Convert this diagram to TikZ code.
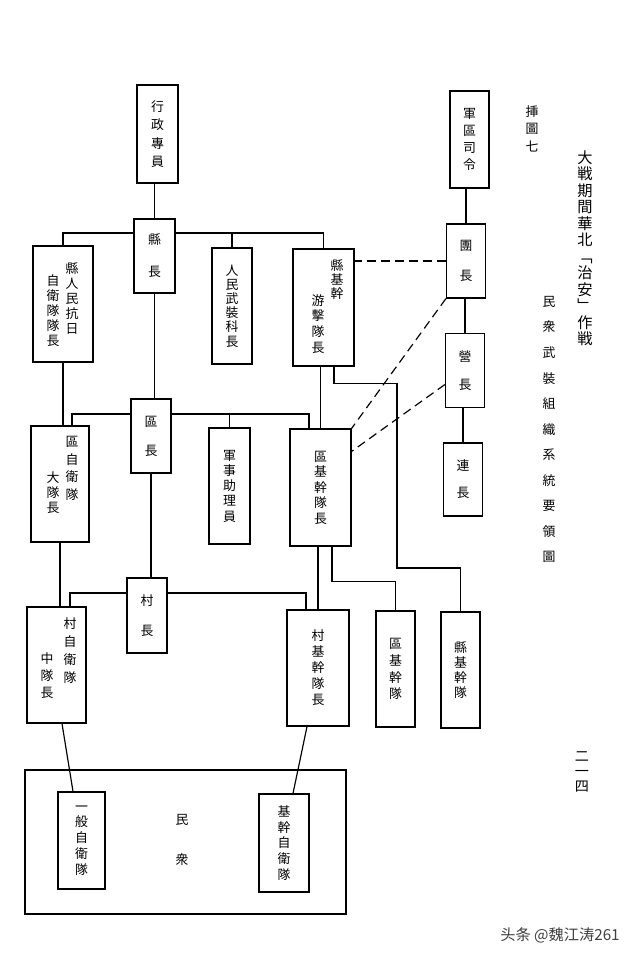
\documentclass[tikz,border=0pt]{standalone}
\usepackage{fontspec}
\newfontfamily\jpfont{Noto Sans CJK JP}
\newfontfamily\wmfont{Noto Sans CJK SC}
\usetikzlibrary{calc}

\begin{document}
\begin{tikzpicture}[x=0.3mm, y=-0.3mm,
  box/.style 2 args={draw, line width=1pt, inner sep=0pt, align=center,
    minimum width=#1*0.3mm, minimum height=#2*0.3mm},
  vt/.style={font=\jpfont\fontsize{11}{#1}\selectfont, align=center},
  vt/.default=13,
  cap/.style 2 args={font=\jpfont\fontsize{#1}{#2}\selectfont, align=center,
    inner sep=0pt, anchor=north},
  link/.style={line width=1pt},
  dlink/.style={line width=1pt, dash pattern=on 7.5pt off 4.5pt}]

% page
\useasboundingbox (0,0) rectangle (640,959);
\fill[white] (0,0) rectangle (640,959);

% heads
\node[box={41}{98}, vt=15.6] (xingzheng) at (157.5,134) {行\\政\\專\\員};
\node[box={39}{97}, vt=14.3] (junqu) at (469.5,139.5) {軍\\區\\司\\令};

% county level
\node[box={41}{74}, vt=27.3] (xianzhang) at (154.5,256) {縣\\長};
\node[box={60}{116}] (xianzwei) at (63,304) {};
\node[cap={11}{12.8}] (xianzwei-r) at (72,262) {縣\\人\\民\\抗\\日};
\node[cap={11}{12.8}] (xianzwei-l) at (53,274) {自\\衛\\隊\\隊\\長};
\node[box={40}{116}, vt=12.1] (renmin) at (232,306) {人\\民\\武\\裝\\科\\長};
\node[box={61}{117}] (xianjiyou) at (323.5,307.5) {};
\node[cap={11}{12}] (xianjiyou-r) at (337,259) {縣\\基\\幹};
\node[cap={11}{13.4}] (xianjiyou-l) at (318,294) {游\\擊\\隊\\長};

% army chain
\node[box={39}{74}, vt=25.6] (tuan) at (466,261) {團\\長};
\node[box={39}{74}, vt=23.9] (ying) at (465,370.5) {營\\長};
\node[box={39}{73}, vt=23] (lian) at (463,479.5) {連\\長};

% district level
\node[box={40}{74}, vt=24.8] (quzhang) at (151,436) {區\\長};
\node[box={58}{116}] (quzwei) at (60,484) {};
\node[cap={11}{15.1}] (quzwei-r) at (72,436) {區\\自\\衛\\隊};
\node[cap={11}{13.2}] (quzwei-l) at (53,471) {大\\隊\\長};
\node[box={41}{116}, vt=13] (junshi) at (229.5,486) {軍\\事\\助\\理\\員};
\node[box={61}{117}, vt=13.2] (qujizhang) at (320.5,487.5) {區\\基\\幹\\隊\\長};

% village level
\node[box={40}{75}, vt=25.6] (cunzhang) at (147,615.5) {村\\長};
\node[box={59}{116}] (cunzwei) at (56.5,665) {};
\node[cap={11}{15.4}] (cunzwei-r) at (70,617) {村\\自\\衛\\隊};
\node[cap={11}{14.5}] (cunzwei-l) at (47,652) {中\\隊\\長};
\node[box={62}{116}, vt=13.7] (cunjizhang) at (318,668) {村\\基\\幹\\隊\\長};
\node[box={39}{116}, vt=14.3] (quji) at (395.5,669) {區\\基\\幹\\隊};
\node[box={39}{116}, vt=12.8] (xianji) at (460.5,670) {縣\\基\\幹\\隊};

% the people
\node[box={321}{144}] (minzhong) at (185.5,842) {};
\node[cap={11}{34}] (minzhong-t) at (182,814) {民\\衆};
\node[box={47}{97}, vt=13.5] (yiban) at (81.5,840.5) {一\\般\\自\\衛\\隊};
\node[box={50}{98}, vt=13.5] (jigan) at (284,843) {基\\幹\\自\\衛\\隊};

% captions
\node[cap={11}{15}] (figno) at (532,105) {挿\\圖\\七};
\node[cap={13}{14.1}] (title) at (585,150) {大\\戦\\期\\間\\華\\北\\﹁\\治\\安\\﹂\\作\\戦};
\node[cap={11}{21.8}] (subtitle) at (549,296) {民\\衆\\武\\裝\\組\\織\\系\\統\\要\\領\\圖};
\node[cap={12}{12.8}] (page) at (582,751) {二\\一\\四};
\node[font=\wmfont\fontsize{13}{13}\selectfont, text=black!75, inner sep=0pt] (mark) at (560,935) {头条 @魏江涛261};

% county links
\coordinate (xbus) at (0,233);
\draw[link] (xianzhang.north) -- (xianzhang.north |- xingzheng.south);
\draw[link] (xianzhang.west |- xbus) -| (xianzwei.north);
\draw[link] (xianzhang.east |- xbus) -| (xianjiyou.north);
\draw[link] (renmin.north) -- (renmin.north |- xbus);

% district links
\coordinate (qbus) at (0,414);
\draw[link] (xianzhang.south) -- (xianzhang.south |- quzhang.north);
\draw[link] (quzhang.west |- qbus) -| ($(quzwei.north)+(12,0)$);
\draw[link] (quzhang.east |- qbus) -| ($(qujizhang.north)+(-11.5,0)$);
\draw[link] (junshi.north) -- (junshi.north |- qbus);
\draw[link] (xianzwei.south) -- (xianzwei.south |- quzwei.north);
\draw[link] (qujizhang.north) -- (qujizhang.north |- xianjiyou.south);
\draw[link] ($(xianjiyou.south)+(10.5,0)$) -- ++(0,17) -| (397,568) -| (xianji.north);

% village links
\coordinate (cbus) at (0,593);
\draw[link] (quzhang.south) -- (quzhang.south |- cunzhang.north);
\draw[link] (cunzhang.west |- cbus) -| ($(cunzwei.north)+(13.5,0)$);
\draw[link] (cunzhang.east |- cbus) -| ($(cunjizhang.north)+(-12,0)$);
\draw[link] (quzwei.south) -- (quzwei.south |- cunzwei.north);
\draw[link] (cunjizhang.north) -- (cunjizhang.north |- qujizhang.south);
\draw[link] ($(qujizhang.south)+(11.5,0)$) |- ($(quji.north)+(0,-29)$) -- (quji.north);

% army links
\draw[link] (tuan.north) -- (tuan.north |- junqu.south);
\draw[link] (ying.north) -- (ying.north |- tuan.south);
\draw[link] (lian.north) -- (lian.north |- ying.south);
\draw[dlink] (tuan.west) -- (tuan.west -| xianjiyou.east);
\draw[dlink] (tuan.south west) -- (qujizhang.north east);
\draw[dlink] ($(ying.west)+(0,14)$) -- ($(qujizhang.north east)+(0,23)$);

% down to the people
\draw[link] ($(cunzwei.south)+(5.5,0)$) -- ($(yiban.north)+(-8.5,0)$);
\draw[link] ($(cunjizhang.south)+(-11,0)$) -- ($(jigan.north)+(9,0)$);
\end{tikzpicture}
\end{document}
